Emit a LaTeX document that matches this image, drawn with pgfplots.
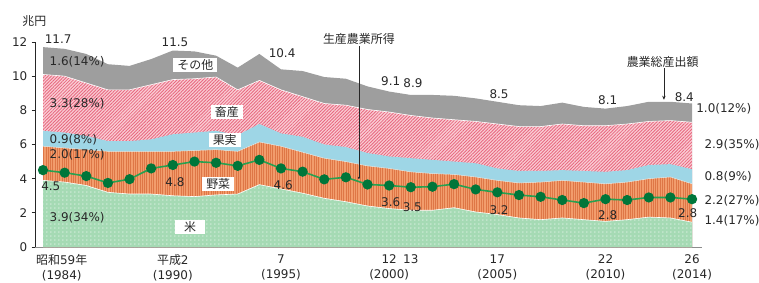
\documentclass[border=0pt]{standalone}
\usepackage{pgfplots}
\pgfplotsset{compat=1.18}
\usepackage{pgfplotstable}
\usetikzlibrary{patterns.meta,arrows.meta}
\usepackage{fontspec}
\setmainfont{DejaVu Sans}
\newfontfamily\jp{Noto Sans CJK JP}

\definecolor{cOther}{RGB}{158,158,158}
\definecolor{cLiveBg}{RGB}{250,205,212}
\definecolor{cLiveLn}{RGB}{232,104,128}
\definecolor{cFruit}{RGB}{158,214,230}
\definecolor{cVeg}{RGB}{242,156,108}
\definecolor{cVegLn}{RGB}{222,118,70}
\definecolor{cRice}{RGB}{165,218,180}
\definecolor{cLine}{RGB}{40,160,80}
\definecolor{cMark}{RGB}{0,118,58}
\definecolor{cTxt}{RGB}{40,40,40}

\tikzset{
  lbl/.style={text=cTxt, inner sep=0pt},
  cat/.style={fill=white, text=cTxt, inner xsep=4pt, inner ysep=1.5pt, font=\jp},
}

% year, rice, vegetables, fruit, livestock, other (trillion yen), agricultural income
\pgfplotstableread{
year R V F L O inc
1984 3.90 2.00 0.90 3.30 1.60 4.50
1985 3.80 2.00 0.90 3.30 1.60 4.35
1986 3.60 2.10 0.80 3.10 1.70 4.15
1987 3.20 2.40 0.60 3.00 1.50 3.75
1988 3.10 2.50 0.60 3.00 1.40 3.97
1989 3.10 2.50 0.70 3.20 1.50 4.60
1990 3.00 2.60 1.00 3.20 1.70 4.80
1991 2.95 2.70 1.05 3.15 1.60 5.00
1992 3.05 2.65 1.10 3.15 1.25 4.93
1993 3.10 2.50 0.95 2.65 1.30 4.75
1994 3.65 2.50 1.05 2.55 1.55 5.10
1995 3.40 2.50 0.75 2.55 1.20 4.60
1996 3.15 2.40 0.90 2.35 1.50 4.41
1997 2.85 2.35 0.80 2.40 1.55 3.96
1998 2.65 2.35 0.85 2.45 1.55 4.08
1999 2.40 2.35 0.75 2.55 1.35 3.66
2000 2.25 2.35 0.70 2.60 1.20 3.60
2001 2.15 2.25 0.80 2.50 1.20 3.50
2002 2.15 2.15 0.80 2.45 1.35 3.53
2003 2.30 1.95 0.75 2.45 1.40 3.68
2004 2.05 2.05 0.80 2.45 1.35 3.37
2005 1.90 2.00 0.70 2.60 1.30 3.20
2006 1.70 2.05 0.70 2.60 1.25 3.04
2007 1.60 2.20 0.65 2.60 1.20 2.94
2008 1.70 2.20 0.60 2.70 1.25 2.75
2009 1.60 2.20 0.65 2.65 1.10 2.57
2010 1.50 2.20 0.70 2.70 1.00 2.80
2011 1.60 2.20 0.70 2.70 1.05 2.75
2012 1.75 2.25 0.80 2.55 1.15 2.90
2013 1.70 2.40 0.75 2.55 1.10 2.90
2014 1.45 2.25 0.85 2.75 1.10 2.80
}\data

\begin{document}
\fontsize{12}{14}\selectfont
\begin{tikzpicture}
\useasboundingbox (-35bp,-36bp) rectangle (724bp,247bp);
\begin{axis}[
  at={(0,0)}, anchor=south west,
  scale only axis, width=667bp, height=205bp,
  xmin=1983.63, xmax=2014.46, ymin=0, ymax=12,
  axis lines=left,
  axis line style={-},
  x axis line style={draw=black!45, line width=0.8pt},
  y axis line style={draw=black!85, line width=0.8pt},
  clip=false,
  ytick={0,2,4,6,8,10,12},
  ytick style={draw=black!85, line width=0.8pt},
  tick align=outside,
  major tick length=3.5bp,
  xtick={1990,1995,2000,2001,2005,2010,2014},
  xticklabels={{{\jp 平成}2\\(1990)},{7\\(1995)},{12\\(2000)},{13\\\strut},{17\\(2005)},{22\\(2010)},{26\\(2014)}},
  xtick style={draw=none},
  xticklabel style={align=center, font=\fontsize{12}{15}\selectfont, text=cTxt},
  yticklabel style={text=cTxt},
  extra x ticks={1983.63},
  extra x tick labels={{{\jp 昭和}59{\jp 年}\\(1984)}},
  extra x tick style={xticklabel style={anchor=north west, xshift=-3bp}},
  /pgf/number format/assume math mode=true,
]
% stacked areas (cumulative, drawn top-down)
\addplot[fill=cOther, draw=none] table[x=year, y expr=\thisrow{R}+\thisrow{V}+\thisrow{F}+\thisrow{L}+\thisrow{O}] {\data} \closedcycle;
\addplot[fill=cLiveBg, draw=none, postaction={pattern={Lines[angle=45,distance=2.3pt,line width=0.85pt]}, pattern color=cLiveLn}] table[x=year, y expr=\thisrow{R}+\thisrow{V}+\thisrow{F}+\thisrow{L}] {\data} \closedcycle;
\addplot[fill=cFruit, draw=none] table[x=year, y expr=\thisrow{R}+\thisrow{V}+\thisrow{F}] {\data} \closedcycle;
\addplot[fill=cVeg, draw=none, postaction={pattern={Lines[angle=90,distance=2.3pt,line width=0.5pt]}, pattern color=cVegLn}] table[x=year, y expr=\thisrow{R}+\thisrow{V}] {\data} \closedcycle;
\addplot[fill=cRice, draw=none, postaction={pattern={Dots[distance=4pt,radius=0.75pt]}, pattern color=white!60!cRice}] table[x=year, y=R] {\data} \closedcycle;
% thin white separators
\addplot[white, line width=0.6pt] table[x=year, y expr=\thisrow{R}+\thisrow{V}+\thisrow{F}+\thisrow{L}] {\data};
\addplot[white!60!cFruit, line width=0.5pt] table[x=year, y expr=\thisrow{R}+\thisrow{V}] {\data};
\addplot[white, line width=0.6pt] table[x=year, y=R] {\data};
% agricultural income line
\addplot[cLine, line width=1.6pt, mark=*, mark size=4.3pt, mark options={fill=cMark, draw=cMark}] table[x=year, y=inc] {\data};

% totals
\node[lbl] at (axis cs:1984.7,12.18) {11.7};
\node[lbl] at (axis cs:1990.1,12.0) {11.5};
\node[lbl] at (axis cs:1995.05,11.37) {10.4};
\node[lbl] at (axis cs:2000.07,9.68) {9.1};
\node[lbl] at (axis cs:2001.1,9.58) {8.9};
\node[lbl] at (axis cs:2005.08,8.96) {8.5};
\node[lbl] at (axis cs:2010.1,8.6) {8.1};
\node[lbl] at (axis cs:2013.64,8.8) {8.4};
% left shares
\node[lbl, anchor=west] at (axis cs:1984.3,10.85) {1.6(14\%)};
\node[lbl, anchor=west] at (axis cs:1984.3,8.41) {3.3(28\%)};
\node[lbl, anchor=west] at (axis cs:1984.3,6.26) {0.9(8\%)};
\node[lbl, anchor=west] at (axis cs:1984.3,5.39) {2.0(17\%)};
\node[lbl, anchor=west] at (axis cs:1984.3,1.74) {3.9(34\%)};
% right shares
\node[lbl, anchor=west] at (axis cs:2014.19,8.12) {1.0(12\%)};
\node[lbl, anchor=west] at (axis cs:2014.57,5.97) {2.9(35\%)};
\node[lbl, anchor=west] at (axis cs:2014.57,4.12) {0.8(9\%)};
\node[lbl, anchor=west] at (axis cs:2014.57,2.71) {2.2(27\%)};
\node[lbl, anchor=west] at (axis cs:2014.57,1.54) {1.4(17\%)};
% income labels
\node[lbl] at (axis cs:1984.36,3.53) {4.5};
\node[lbl] at (axis cs:1990.1,3.82) {4.8};
\node[lbl] at (axis cs:1995.1,3.63) {4.6};
\node[lbl] at (axis cs:2000.07,2.6) {3.6};
\node[lbl] at (axis cs:2001.07,2.36) {3.5};
\node[lbl] at (axis cs:2005.08,2.13) {3.2};
\node[lbl] at (axis cs:2010.1,1.87) {2.8};
\node[lbl] at (axis cs:2013.8,1.97) {2.8};
% category names
\node[cat] at (axis cs:1991.04,10.66) {その他};
\node[cat] at (axis cs:1992.5,7.9) {畜産};
\node[cat] at (axis cs:1992.4,6.26) {果実};
\node[cat] at (axis cs:1992.1,3.69) {野菜};
\node[cat, inner xsep=9pt] at (axis cs:1990.8,1.19) {米};
% unit and annotations
\node[lbl, font=\jp] at (axis cs:1983.6,13.2) {兆円};
\node[lbl, font=\jp] at (axis cs:1998.6,12.2) {生産農業所得};
\draw[black!85, line width=0.6pt] (axis cs:1998.6,11.75) -- (axis cs:1998.6,4.05);
\fill[black!85] (axis cs:1998.6,4.05) circle (1.1pt);
\node[lbl, font=\jp] at (axis cs:2012.64,10.85) {農業総産出額};
\draw[black!85, line width=0.6pt, -{Stealth[length=4pt,width=3.5pt]}] (axis cs:2012.7,10.45) -- (axis cs:2012.7,8.62);
\end{axis}
\end{tikzpicture}
\end{document}
